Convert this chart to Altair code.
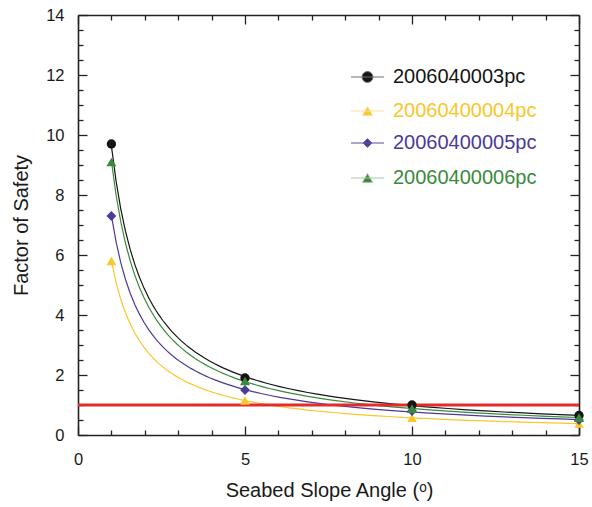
import altair as alt
import pandas as pd

# ---------------- data ----------------
slope_angle = [1, 5, 10, 15]
series_names = ["2006040003pc", "20060400004pc", "20060400005pc", "20060400006pc"]
fos_03 = [9.7, 1.9, 1.0, 0.65]
fos_04 = [5.8, 1.15, 0.57, 0.38]
fos_05 = [7.3, 1.5, 0.8, 0.5]
fos_06 = [9.1, 1.8, 0.88, 0.58]
threshold = [1.0]
x_ticks = list(range(0, 16))
y_ticks = [i * 0.5 for i in range(0, 29)]

# ---------------- styles ----------------
FONT = "Liberation Sans"
series_colors = ["#151515", "#f9c62b", "#4a3b98", "#3a8a3c"]
legend_line_colors = ["#707070", "#fbe29a", "#5a4fa0", "#a6c79f"]
marker_shapes = ["circle", "triangle-up", "diamond", "triangle-up"]
marker_sizes = [88, 100, 72, 105]
legend_paths = [
    "M-1,0H1M0.33,0A0.33,0.33,0,1,1,-0.33,0A0.33,0.33,0,1,1,0.33,0Z",
    "M-1,0H1M0,-0.27L0.31,0.27L-0.31,0.27Z",
    "M-1,0H1M0,-0.26L0.26,0L0,0.26L-0.26,0Z",
    "M-1,0H1M0,-0.27L0.31,0.27L-0.31,0.27Z",
]
legend_offsets_y = [45, 79, 111, 146]

rows = []
for name, vals in zip(series_names, [fos_03, fos_04, fos_05, fos_06]):
    for a, v in zip(slope_angle, vals):
        rows.append({"series": name, "angle": a, "fos": v})
df = pd.DataFrame(rows)

x_scale = alt.Scale(domain=[0, 15], nice=False, zero=False)
y_scale = alt.Scale(domain=[0, 14], nice=False, zero=False)
color_scale = alt.Scale(domain=series_names, range=series_colors)

axis_common = dict(
    grid=False,
    domainColor="#222222",
    domainWidth=1.6,
    tickColor="#222222",
    tickWidth=1.3,
    labelOverlap=False,
    labelFlush=False,
    labelFont=FONT,
    labelFontSize=16.5,
    labelColor="#1a1a1a",
    titleFont=FONT,
    titleFontSize=20,
    titleFontWeight="normal",
    titleColor="#1a1a1a",
)
x_tick_size = {"expr": "datum.value % 5 === 0 ? -9 : -5"}
y_tick_size = {"expr": "datum.value % 2 === 0 ? -9 : -5"}

x_bottom = alt.Axis(
    orient="bottom", values=x_ticks, tickSize=x_tick_size,
    labelExpr="datum.value % 5 === 0 ? format(datum.value, 'd') : ''", labelPadding=25,
    title="Seabed Slope Angle (ᵒ)", titleBaseline="alphabetic", titleAlign="center",
    titleX=251, titleY=61, **axis_common)
y_left = alt.Axis(
    orient="left", values=y_ticks, tickSize=y_tick_size,
    labelExpr="datum.value % 2 === 0 ? format(datum.value, 'd') : ''", labelPadding=23,
    title="Factor of Safety", titleAngle=270, titleBaseline="alphabetic",
    titleAlign="center", titleX=-50.5, titleY=210, **axis_common)
x_top = alt.Axis(orient="top", values=x_ticks, tickSize=x_tick_size,
                 labels=False, title=None, **axis_common)
y_right = alt.Axis(orient="right", values=y_ticks, tickSize=y_tick_size,
                   labels=False, title=None, **axis_common)

base = alt.Chart(df)

# power-law trend curves fitted by Vega's own regression transform
curves = base.transform_regression(
    "angle", "fos", method="pow", groupby=["series"]
).mark_line(strokeWidth=1.2).encode(
    x=alt.X("angle:Q", scale=x_scale, axis=x_bottom),
    y=alt.Y("fos:Q", scale=y_scale, axis=y_left),
    stroke=alt.Stroke("series:N", scale=color_scale, legend=None),
)

rule = alt.Chart(pd.DataFrame({"fos": threshold})).mark_rule(
    color="#e42a2a", strokeWidth=3).encode(
    y=alt.Y("fos:Q", scale=y_scale, axis=None))

points = base.mark_point(filled=True, opacity=1).encode(
    x=alt.X("angle:Q", scale=x_scale, axis=x_top),
    y=alt.Y("fos:Q", scale=y_scale, axis=y_right),
    color=alt.Color("series:N", scale=color_scale, legend=None),
    shape=alt.Shape("series:N", scale=alt.Scale(domain=series_names, range=marker_shapes), legend=None),
    size=alt.Size("series:N", scale=alt.Scale(domain=series_names, range=marker_sizes), legend=None),
)

# one invisible layer per series, only to carry its own legend entry
legend_layers = []
for i, name in enumerate(series_names):
    lg = alt.Legend(
        title=None, orient="none", legendX=272.5, legendY=legend_offsets_y[i], padding=0,
        symbolType=legend_paths[i], symbolSize=1089,
        symbolStrokeColor=legend_line_colors[i], symbolStrokeWidth=1,
        symbolFillColor=series_colors[i], symbolOpacity=1,
        labelColor=series_colors[i], labelFont=FONT, labelFontSize=20,
        labelOffset=8.5, labelLimit=300)
    layer = base.transform_filter(alt.datum.series == name).mark_point(
        filled=True, shape=legend_paths[i], size=1089, opacity=0,
        stroke=legend_line_colors[i], strokeWidth=1).encode(
        x=alt.X("angle:Q", scale=x_scale, axis=None),
        y=alt.Y("fos:Q", scale=y_scale, axis=None),
        color=alt.Color("series:N", scale=alt.Scale(domain=[name], range=[series_colors[i]]),
                        legend=lg),
    )
    legend_layers.append(layer)

chart = alt.layer(curves, rule, points, *legend_layers).resolve_axis(
    x="independent", y="independent"
).resolve_scale(color="independent").properties(
    width=501, height=420,
    autosize=alt.AutoSizeParams(type="none"),
    padding={"left": 78, "top": 15, "right": 13, "bottom": 72},
).configure_view(stroke=None)

chart.save("out.html", embed_options={"renderer": "svg", "actions": False})
